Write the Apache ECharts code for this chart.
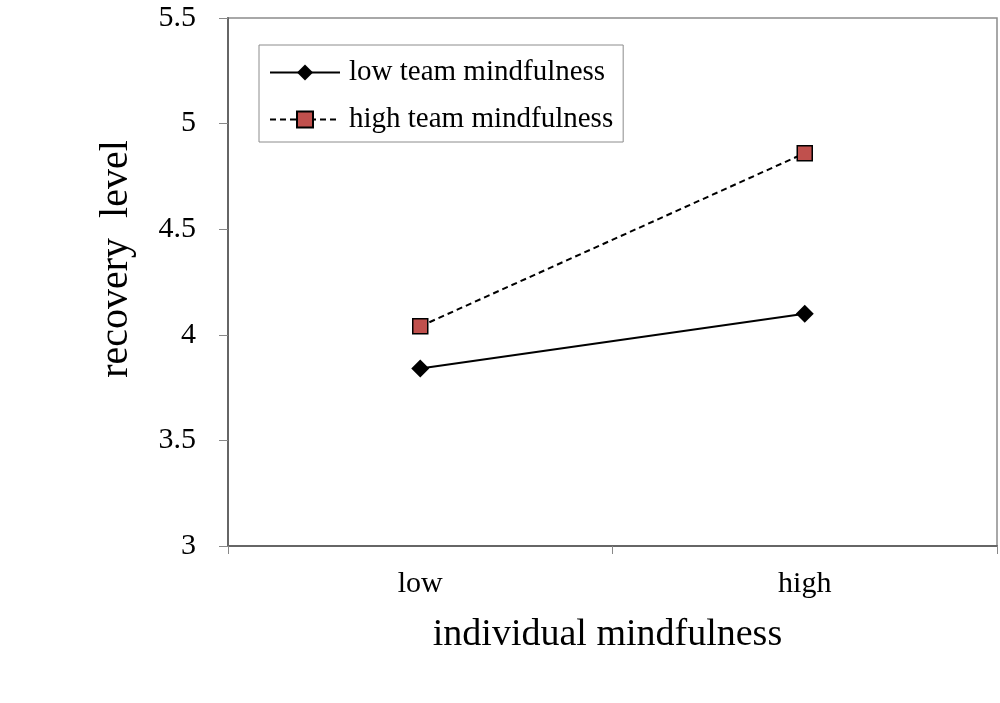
<!DOCTYPE html>
<html><head><meta charset="utf-8">
<script src="https://cdn.jsdelivr.net/npm/echarts@6/dist/echarts.min.js"></script>
<style>html,body{margin:0;padding:0;background:#fff}#c{width:1000px;height:703px}</style>
</head><body><div id="c"></div>
<script>
const categories = ['low', 'high'];
const lowTeam = [3.84, 4.10];
const highTeam = [4.04, 4.86];
const seriesNames = ['low team mindfulness', 'high team mindfulness'];
const yTicks = [3, 3.5, 4, 4.5, 5, 5.5];

const font = '"Liberation Serif", "DejaVu Serif", serif';
const chart = echarts.init(document.getElementById('c'));
chart.setOption({
  animation: false,
  backgroundColor: '#fff',
  grid: { left: 228, right: 3, top: 18, bottom: 157, show: true, borderColor: '#8c8c8c', borderWidth: 1.5, containLabel: false },
  legend: {
    left: 259, top: 45, orient: 'vertical',
    padding: [13, 10, 8, 10],
    itemGap: 18,
    itemWidth: 70, itemHeight: 20,
    borderColor: '#8c8c8c', borderWidth: 1,
    textStyle: { fontFamily: font, fontSize: 29, color: '#000', padding: [0, 0, 0, 4] },
    data: seriesNames
  },
  xAxis: {
    type: 'category', data: categories, boundaryGap: true,
    axisLine: { lineStyle: { color: '#666', width: 2 } },
    axisTick: { show: true, length: 8, alignWithLabel: false, lineStyle: { color: '#888', width: 1 } },
    axisLabel: { fontFamily: font, fontSize: 30, color: '#000', margin: 23 },
    name: 'individual mindfulness', nameLocation: 'middle', nameGap: 70,
    nameTextStyle: { fontFamily: font, fontSize: 38, color: '#000', padding: [0, 10, 0, 0] }
  },
  yAxis: {
    type: 'value', min: 3, max: 5.5, interval: 0.5,
    axisLine: { show: true, lineStyle: { color: '#666', width: 2 } },
    axisTick: { show: true, length: 9, inside: false, lineStyle: { color: '#888', width: 1 } },
    splitLine: { show: false },
    axisLabel: { fontFamily: font, fontSize: 30, color: '#000', margin: 32,
      formatter: v => { const t = yTicks.find(x => Math.abs(x - v) < 1e-9); return t === undefined ? '' : String(t); } },
    name: 'recovery  level', nameLocation: 'middle', nameGap: 92,
    nameTextStyle: { fontFamily: font, fontSize: 40, color: '#000', padding: [0, 0, 0, 46] }
  },
  series: [
    { name: seriesNames[0], type: 'line', data: lowTeam,
      symbol: 'diamond', symbolSize: 18,
      itemStyle: { color: '#000', borderColor: '#000', borderWidth: 0 },
      lineStyle: { color: '#000', width: 2, type: 'solid' } },
    { name: seriesNames[1], type: 'line', data: highTeam,
      symbol: 'rect', symbolSize: 15,
      itemStyle: { color: '#c0504d', borderColor: '#000', borderWidth: 1.5 },
      lineStyle: { color: '#000', width: 2, type: [6, 4] } }
  ]
});
</script></body></html>
